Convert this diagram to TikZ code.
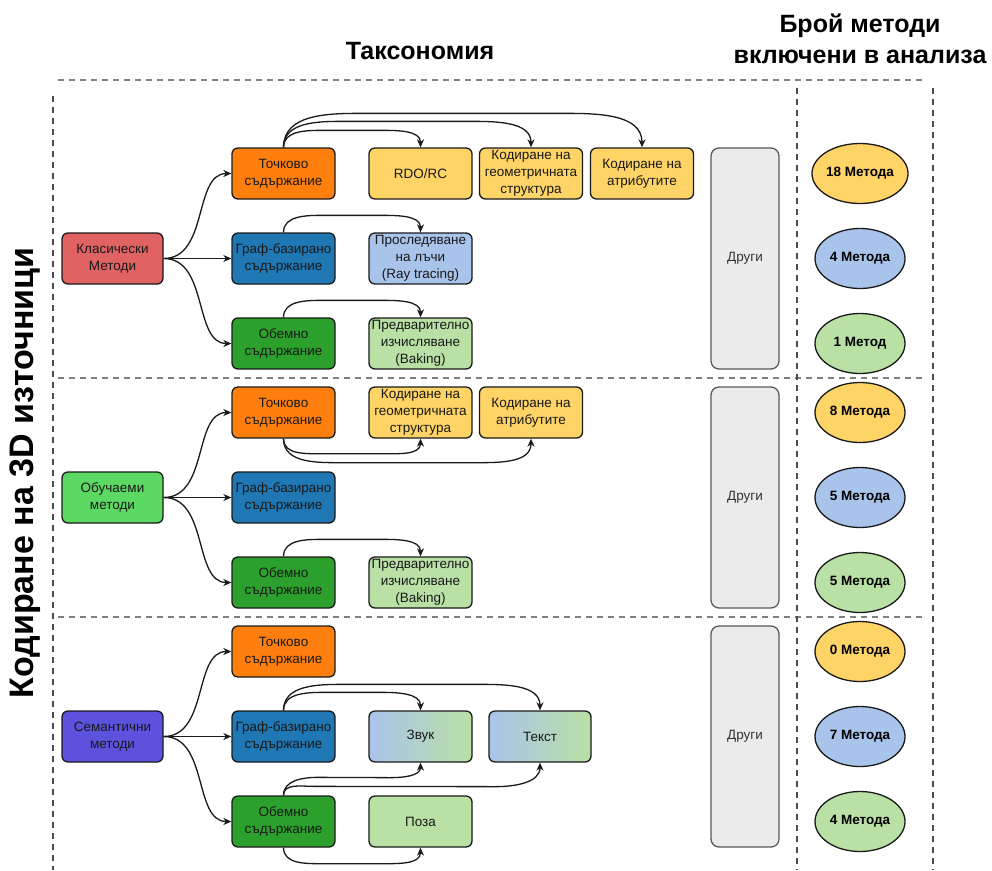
\documentclass[tikz,border=0pt]{standalone}
\usepackage{fontspec}
\setmainfont{Liberation Sans}
\usetikzlibrary{arrows.meta,calc,shapes.geometric}

\definecolor{clsred}{HTML}{E06262}
\definecolor{lrngreen}{HTML}{5CD963}
\definecolor{semblue}{HTML}{5D52DD}
\definecolor{ptorange}{HTML}{FF7F0E}
\definecolor{grblue}{HTML}{1F77B4}
\definecolor{volgreen}{HTML}{2CA02C}
\definecolor{lorange}{HTML}{FFD466}
\definecolor{lblue}{HTML}{A9C4EB}
\definecolor{lgreen}{HTML}{B9E0A5}
\definecolor{othgray}{HTML}{EBEBEB}
\definecolor{edge}{HTML}{1A1A1A}

\newcommand\txtsz{\fontsize{13.5}{17}\selectfont}
% arc over the tops of two boxes: start, end, rise, bend width
\newcommand\arcabove[4]{\draw[arr] (#1) to[out=90,in=180] ($(#1)+(#4,#3)$) -- ($(#2)+(-#4,#3)$) to[out=0,in=90] (#2);}
% arc under the bottoms of two boxes
\newcommand\arcbelow[4]{\draw[arr] (#1) to[out=-90,in=180] ($(#1)+(#4,-#3)$) -- ($(#2)+(-#4,-#3)$) to[out=0,in=-90] (#2);}

\begin{document}
\begin{tikzpicture}[x=1pt,y=1pt,
  box/.style={draw=edge, line width=1.3pt, rounded corners=6pt, minimum width=103pt,
    minimum height=51pt, inner sep=0pt, align=center, font=\txtsz, text=black!90},
  mbox/.style={box, minimum width=101pt},
  other/.style={draw=black!65, line width=1.3pt, rounded corners=8pt, fill=othgray,
    minimum width=68pt, minimum height=221pt, inner sep=0pt, font=\txtsz, text=black!80},
  cnt/.style={ellipse, draw=edge, line width=1.3pt, minimum width=90pt, minimum height=60pt,
    inner sep=0pt, font=\bfseries\txtsz},
  arr/.style={draw=edge, line width=1.3pt, -{Stealth[length=8pt,width=7pt,inset=2.5pt]}},
  hdash/.style={draw=black!50, line width=1.3pt, dash pattern=on 6pt off 5pt},
  vdash/.style={draw=black!70, line width=1.2pt, dash pattern=on 6pt off 5pt},
  title/.style={font=\bfseries\fontsize{25}{31}\selectfont, align=center}
]
\useasboundingbox (0,0) rectangle (992,-870);

% frame
\draw[hdash] (58,-80) -- (925,-80);
\draw[hdash] (58,-378) -- (925,-378);
\draw[hdash] (58,-617) -- (925,-617);
\draw[vdash] (53,-96) -- (53,-870);
\draw[vdash] (797,-88) -- (797,-870);
\draw[vdash] (933,-88) -- (933,-870);

% headings
\node[title] (ttax) at (420,-51) {Таксономия};
\node[title] (tcnt) at (860,-39) {Брой методи\\включени в анализа};
\node[rotate=90, font=\bfseries\fontsize{34}{40}\selectfont] (tmain) at (25,-473) {Кодиране на 3D източници};

% classical methods
\node[mbox,fill=clsred] (cls) at (112.5,-258.5) {Класически\\Методи};
\node[box,fill=ptorange] (pt1) at (283.5,-173.5) {Точково\\съдържание};
\node[box,fill=grblue] (gr1) at (283.5,-258.5) {Граф-базирано\\съдържание};
\node[box,fill=volgreen] (vo1) at (283.5,-343.5) {Обемно\\съдържание};
\node[box,fill=lorange] (rdo) at (420.5,-173.5) {RDO/RC};
\node[box,fill=lorange] (geo1) at (531,-173.5) {Кодиране на\\геометричната\\структура};
\node[box,fill=lorange] (att1) at (642,-173.5) {Кодиране на\\атрибутите};
\node[box,fill=lblue] (ray) at (420.5,-258.5) {Проследяване\\на лъчи\\(Ray tracing)};
\node[box,fill=lgreen] (bak1) at (420.5,-343.5) {Предварително\\изчисляване\\(Baking)};

% learned methods
\node[mbox,fill=lrngreen] (lrn) at (112.5,-497.5) {Обучаеми\\методи};
\node[box,fill=ptorange] (pt2) at (283.5,-412.5) {Точково\\съдържание};
\node[box,fill=grblue] (gr2) at (283.5,-497.5) {Граф-базирано\\съдържание};
\node[box,fill=volgreen] (vo2) at (283.5,-582.5) {Обемно\\съдържание};
\node[box,fill=lorange] (geo2) at (420.5,-412.5) {Кодиране на\\геометричната\\структура};
\node[box,fill=lorange] (att2) at (531,-412.5) {Кодиране на\\атрибутите};
\node[box,fill=lgreen] (bak2) at (420.5,-582.5) {Предварително\\изчисляване\\(Baking)};

% semantic methods
\node[mbox,fill=semblue] (sem) at (112.5,-736.5) {Семантични\\методи};
\node[box,fill=ptorange] (pt3) at (283.5,-651.5) {Точково\\съдържание};
\node[box,fill=grblue] (gr3) at (283.5,-736.5) {Граф-базирано\\съдържание};
\node[box,fill=volgreen] (vo3) at (283.5,-821.5) {Обемно\\съдържание};
\node[box,left color=lblue,right color=lgreen] (snd) at (420.5,-736.5) {Звук};
\node[box,left color=lblue,right color=lgreen,minimum width=102pt] (txt) at (540,-736.5) {Текст};
\node[box,fill=lgreen] (pose) at (420.5,-821.5) {Поза};

% other methods
\node[other] (oth1) at (745,-258.5) {Други};
\node[other] (oth2) at (745,-497.5) {Други};
\node[other] (oth3) at (745,-736.5) {Други};

% method counts
\node[cnt,fill=lorange] (c11) at (860,-173.5) {18 Метода};
\node[cnt,fill=lblue]   (c12) at (860,-258.5) {4 Метода};
\node[cnt,fill=lgreen]  (c13) at (860,-343.5) {1 Метод};
\node[cnt,fill=lorange] (c21) at (860,-412.5) {8 Метода};
\node[cnt,fill=lblue]   (c22) at (860,-497.5) {5 Метода};
\node[cnt,fill=lgreen]  (c23) at (860,-582.5) {5 Метода};
\node[cnt,fill=lorange] (c31) at (860,-651.5) {0 Метода};
\node[cnt,fill=lblue]   (c32) at (860,-736.5) {7 Метода};
\node[cnt,fill=lgreen]  (c33) at (860,-821.5) {4 Метода};

% fan-out from each method family
\foreach \m/\a/\b/\c in {cls/pt1/gr1/vo1, lrn/pt2/gr2/vo2, sem/pt3/gr3/vo3}{
  \draw[arr] (\m.east) .. controls +(45,0) and +(-38,0) .. (\a.west);
  \draw[arr] (\m.east) -- (\b.west);
  \draw[arr] (\m.east) .. controls +(45,0) and +(-38,0) .. (\c.west);
}

% classical links
\arcabove{pt1.north}{rdo.north}{17}{40}
\arcabove{pt1.north}{geo1.north}{26}{60}
\arcabove{pt1.north}{att1.north}{34}{80}
\arcabove{gr1.north}{ray.north}{17}{40}
\arcabove{vo1.north}{bak1.north}{17}{40}

% learned links
\arcbelow{pt2.south}{geo2.south}{15}{40}
\arcbelow{pt2.south}{att2.south}{24}{60}
\arcabove{vo2.north}{bak2.north}{17}{40}

% semantic links
\arcabove{gr3.north}{snd.north}{18}{40}
\arcabove{gr3.north}{txt.north}{26}{60}
\draw[arr] (vo3.north) to[out=90,in=180] ($(vo3.north)+(35,18)$) -- ($(snd.south)+(-30,-15)$) to[out=0,in=-90] (snd.south);
\draw[arr] (vo3.north) to[out=90,in=180] ($(vo3.north)+(30,9)$) -- ($(txt.south)+(-45,-24)$) to[out=0,in=-90] (txt.south);
\arcbelow{vo3.south}{pose.south}{16}{40}
\end{tikzpicture}
\end{document}
